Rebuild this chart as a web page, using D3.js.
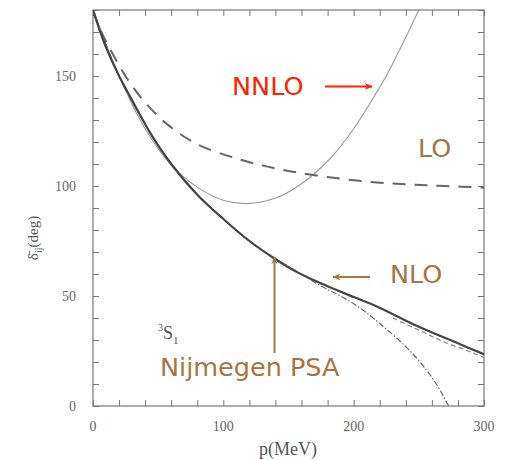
<!DOCTYPE html>
<html>
<head>
<meta charset="UTF-8">
<script src="https://cdn.jsdelivr.net/npm/d3@7"></script>
<style>
  body { margin: 0; background: #fff; }
</style>
</head>
<body>
<div id="chart"></div>
<script>
  // momenta (MeV) and phase shifts (deg)
  const nloP   = [0, 5, 10, 20, 30, 44, 60, 80, 100, 120, 138, 153, 170, 200, 217, 250, 280, 300];
  const nloD   = [180, 171, 163, 150, 139, 124, 110, 96, 85, 75, 67.5, 62, 57, 49.5, 45.5, 36, 28.5, 23.5];

  const psaP   = [0, 20, 44, 60, 80, 100, 120, 140, 160, 175, 190, 205, 220, 240, 255, 265, 272, 282];
  const psaD   = [180, 150, 124, 110, 96, 85, 75, 67, 60, 54.5, 50, 44.5, 37.5, 27, 17, 8.5, 1, -9];

  const nlo2P  = [230, 250, 270, 290, 300];
  const nlo2D  = [40, 34.5, 29, 24.5, 22];

  const loP    = [0, 5, 11.5, 26, 40, 57, 80, 113, 140, 169, 210, 243, 270, 300];
  const loD    = [180, 172, 164, 149, 138, 128, 119, 112, 108, 105, 102, 100.7, 100, 99.3];

  const nnloP  = [0, 20, 40, 60, 80, 100, 118, 140, 160, 182, 200, 215, 225, 237, 250];
  const nnloD  = [180, 150, 126, 109.5, 99.5, 93.5, 92, 94.5, 101, 112.5, 126, 140, 150, 164, 180];

  const xTicks = [0, 100, 200, 300];
  const yTicks = [0, 50, 100, 150];

  const width = 506, height = 460;
  const marginLeft = 93, marginRight = 22, marginTop = 10, marginBottom = 54;

  const x = d3.scaleLinear().domain([0, 300]).range([marginLeft, width - marginRight]);
  const y = d3.scaleLinear().domain([0, 180]).range([height - marginBottom, marginTop]);

  const svg = d3.select("#chart").append("svg")
    .attr("width", width).attr("height", height)
    .attr("viewBox", [0, 0, width, height]);

  svg.append("defs").append("clipPath").attr("id", "clip")
    .append("rect")
    .attr("x", marginLeft).attr("y", marginTop)
    .attr("width", x(300) - x(0)).attr("height", y(0) - y(180));

  const gray = "#777";

  // frame
  svg.append("rect")
    .attr("x", x(0)).attr("y", y(180))
    .attr("width", x(300) - x(0)).attr("height", y(0) - y(180))
    .attr("fill", "none").attr("stroke", gray).attr("stroke-width", 1.2);

  // inward ticks on all sides
  const tickFont = "Liberation Serif, serif";
  const axBottom = svg.append("g").attr("transform", `translate(0,${y(0)})`)
    .call(d3.axisTop(x).tickValues(d3.range(0, 301, 20)).tickSize(6).tickFormat(""));
  const axTop = svg.append("g").attr("transform", `translate(0,${y(180)})`)
    .call(d3.axisBottom(x).tickValues(d3.range(0, 301, 20)).tickSize(6).tickFormat(""));
  const axLeft = svg.append("g").attr("transform", `translate(${x(0)},0)`)
    .call(d3.axisRight(y).tickValues(d3.range(0, 181, 10)).tickSize(6).tickFormat(""));
  const axRight = svg.append("g").attr("transform", `translate(${x(300)},0)`)
    .call(d3.axisLeft(y).tickValues(d3.range(0, 181, 10)).tickSize(6).tickFormat(""));
  [axBottom, axTop, axLeft, axRight].forEach(g => {
    g.select(".domain").remove();
    g.selectAll("line").attr("stroke", gray);
  });

  // tick labels
  svg.append("g").selectAll("text").data(xTicks).join("text")
    .attr("x", d => x(d)).attr("y", y(0) + 25)
    .attr("text-anchor", "middle")
    .attr("font-family", tickFont).attr("font-size", 14).attr("fill", "#666")
    .text(d => d);
  svg.append("g").selectAll("text").data(yTicks).join("text")
    .attr("x", x(0) - 17).attr("y", d => y(d) + 5)
    .attr("text-anchor", "end")
    .attr("font-family", tickFont).attr("font-size", 14).attr("fill", "#666")
    .text(d => d);

  // axis titles
  svg.append("text")
    .attr("x", 288).attr("y", 455)
    .attr("text-anchor", "middle")
    .attr("font-family", tickFont).attr("font-size", 18).attr("fill", "#555")
    .text("p(MeV)");
  const yt = svg.append("text")
    .attr("transform", `translate(38,238) rotate(-90)`)
    .attr("text-anchor", "middle")
    .attr("font-family", tickFont).attr("font-size", 15).attr("fill", "#555");
  yt.append("tspan").text("δ̄");
  yt.append("tspan").attr("font-size", 10).attr("dy", 4).text("ij");
  yt.append("tspan").attr("dy", -4).text("(deg)");

  const s1 = svg.append("text")
    .attr("x", 158).attr("y", 339)
    .attr("font-family", tickFont).attr("font-size", 18).attr("fill", "#555");
  s1.append("tspan").attr("font-size", 10).attr("dy", -8).text("3");
  s1.append("tspan").attr("dy", 8).text("S");
  s1.append("tspan").attr("font-size", 11).attr("dy", 5).text("1");

  // curves
  const line = (ps, ds) => d3.line().curve(d3.curveCatmullRom.alpha(0.5))
    .x((d, i) => x(ps[i])).y((d, i) => y(ds[i]))(ps);

  const curves = svg.append("g").attr("clip-path", "url(#clip)").attr("fill", "none");
  curves.append("path").attr("d", line(nnloP, nnloD))
    .attr("stroke", "#999").attr("stroke-width", 1.1);
  curves.append("path").attr("d", line(loP, loD))
    .attr("stroke", "#666").attr("stroke-width", 2).attr("stroke-dasharray", "13,9");
  curves.append("path").attr("d", line(psaP, psaD))
    .attr("stroke", "#666").attr("stroke-width", 1.2).attr("stroke-dasharray", "6,2,1.5,2");
  curves.append("path").attr("d", line(nlo2P, nlo2D))
    .attr("stroke", "#888").attr("stroke-width", 1.2).attr("stroke-dasharray", "5,3");
  curves.append("path").attr("d", line(nloP, nloD))
    .attr("stroke", "#444").attr("stroke-width", 2.2);

  // annotations
  const brown = "#a77540";
  const red = "#ff2200";
  const annFont = "DejaVu Sans, sans-serif";
  const annSize = 25.5;
  const defs = svg.select("defs");
  [["ar", red], ["ab", brown]].forEach(([id, c]) => {
    defs.append("marker").attr("id", id)
      .attr("viewBox", "0 0 10 10").attr("refX", 9).attr("refY", 5)
      .attr("markerWidth", 5).attr("markerHeight", 4).attr("orient", "auto")
      .append("path").attr("d", "M0,1 L10,5 L0,9 L3,5 Z").attr("fill", c);
  });

  svg.append("text").attr("x", 232).attr("y", 95)
    .attr("font-family", annFont).attr("font-size", annSize).attr("fill", red).text("NNLO");
  svg.append("line").attr("x1", 325).attr("y1", 86.5).attr("x2", 372).attr("y2", 86.5)
    .attr("stroke", red).attr("stroke-width", 2).attr("marker-end", "url(#ar)");

  svg.append("text").attr("x", 418).attr("y", 157)
    .attr("font-family", annFont).attr("font-size", annSize).attr("fill", brown).text("LO");

  svg.append("text").attr("x", 390).attr("y", 283)
    .attr("font-family", annFont).attr("font-size", annSize).attr("fill", brown).text("NLO");
  svg.append("line").attr("x1", 370).attr("y1", 277).attr("x2", 333).attr("y2", 277)
    .attr("stroke", brown).attr("stroke-width", 2).attr("marker-end", "url(#ab)");

  svg.append("text").attr("x", 160).attr("y", 376)
    .attr("font-family", annFont).attr("font-size", annSize).attr("fill", brown).text("Nijmegen PSA");
  svg.append("line").attr("x1", 274.5).attr("y1", 353).attr("x2", 274.5).attr("y2", 257)
    .attr("stroke", brown).attr("stroke-width", 2).attr("marker-end", "url(#ab)");
</script>
</body>
</html>
